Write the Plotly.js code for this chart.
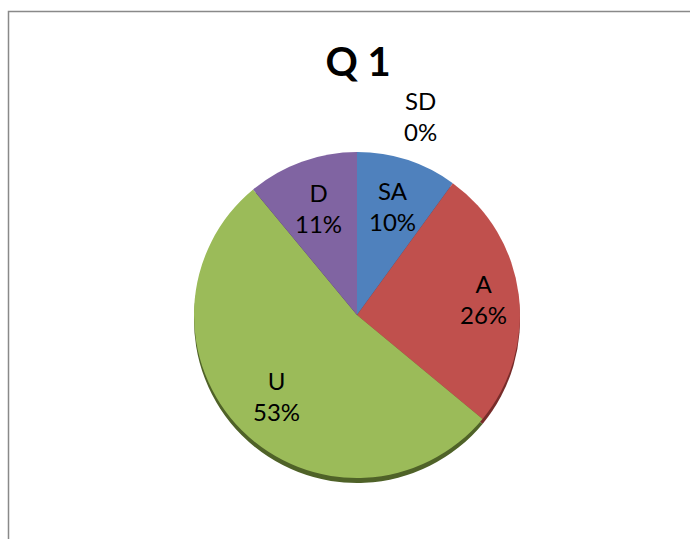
<!DOCTYPE html>
<html>
<head>
<meta charset="utf-8">
<script src="https://cdn.plot.ly/plotly-3.0.1.min.js"></script>
<style>html,body{margin:0;padding:0;background:#fff}#chart{width:690px;height:539px}</style>
</head>
<body>
<div id="chart"></div>
<script>
const labels = ['SA', 'A', 'U', 'D', 'SD'];
const values = [10, 26, 53, 11, 0];
const colors = ['#4F81BD', '#C0504D', '#9BBB59', '#8064A2', '#F79646'];
const shadowColors = ['#2C4D75', '#772C2A', '#4F6228', '#3F3151', '#984807'];
const title = 'Q 1';

const W = 690, H = 539;
const cx = 357, cy = 315, r = 163;
const FONT = 'Lato, Carlito, sans-serif';
const dom = (dy) => ({
  x: [(cx - r) / W, (cx + r) / W],
  y: [(H - cy - r - dy) / H, (H - cy + r - dy) / H]
});

const shadow = {
  type: 'pie', labels: labels, values: values, sort: false, direction: 'clockwise', rotation: 0,
  marker: {colors: shadowColors, line: {width: 0}},
  textinfo: 'none', hoverinfo: 'skip', showlegend: false,
  domain: dom(5)
};
const main = {
  type: 'pie', labels: labels, values: values, sort: false, direction: 'clockwise', rotation: 0,
  marker: {colors: colors, line: {width: 0}},
  textinfo: 'none', showlegend: false,
  domain: dom(0)
};

// data labels placed at the middle angle of each slice (Excel-like best fit)
const total = values.reduce((a, b) => a + b, 0);
const annotations = [];
let cum = 0;
values.forEach((v, i) => {
  const frac = v / total;
  const mid = (cum + frac / 2) * 2 * Math.PI;
  cum += frac;
  const pct = Math.round(frac * 100) + '%';
  let px, py;
  if (v === 0) {            // zero slice: label set outside, above-right of the pie
    px = cx + 63; py = cy - 199;
  } else {
    const rr = r * (i === 1 ? 0.78 : 0.7);
    px = cx + rr * Math.sin(mid);
    py = cy - rr * Math.cos(mid);
  }
  annotations.push({
    xref: 'paper', yref: 'paper', x: px / W, y: 1 - py / H,
    xanchor: 'center', yanchor: 'middle', showarrow: false,
    text: labels[i] + '<br>' + pct,
    font: {family: FONT, size: 24, color: '#000'}
  });
});

const layout = {
  width: W, height: H,
  margin: {l: 0, r: 0, t: 0, b: 0},
  paper_bgcolor: '#fff', plot_bgcolor: '#fff',
  title: {text: '<b>' + title + '</b>', x: 358 / W, xanchor: 'center', y: 1 - 62 / H, yanchor: 'middle',
          font: {family: FONT, size: 40, color: '#000'}},
  annotations: annotations,
  shapes: [{type: 'rect', xref: 'paper', yref: 'paper', x0: 8.5 / W, x1: 1.05, y0: -0.05, y1: 1 - 11.5 / H,
            line: {color: '#898989', width: 1.5}, fillcolor: 'rgba(0,0,0,0)'}]
};

Plotly.newPlot('chart', [shadow, main], layout, {displayModeBar: false, staticPlot: true});
</script>
</body>
</html>
